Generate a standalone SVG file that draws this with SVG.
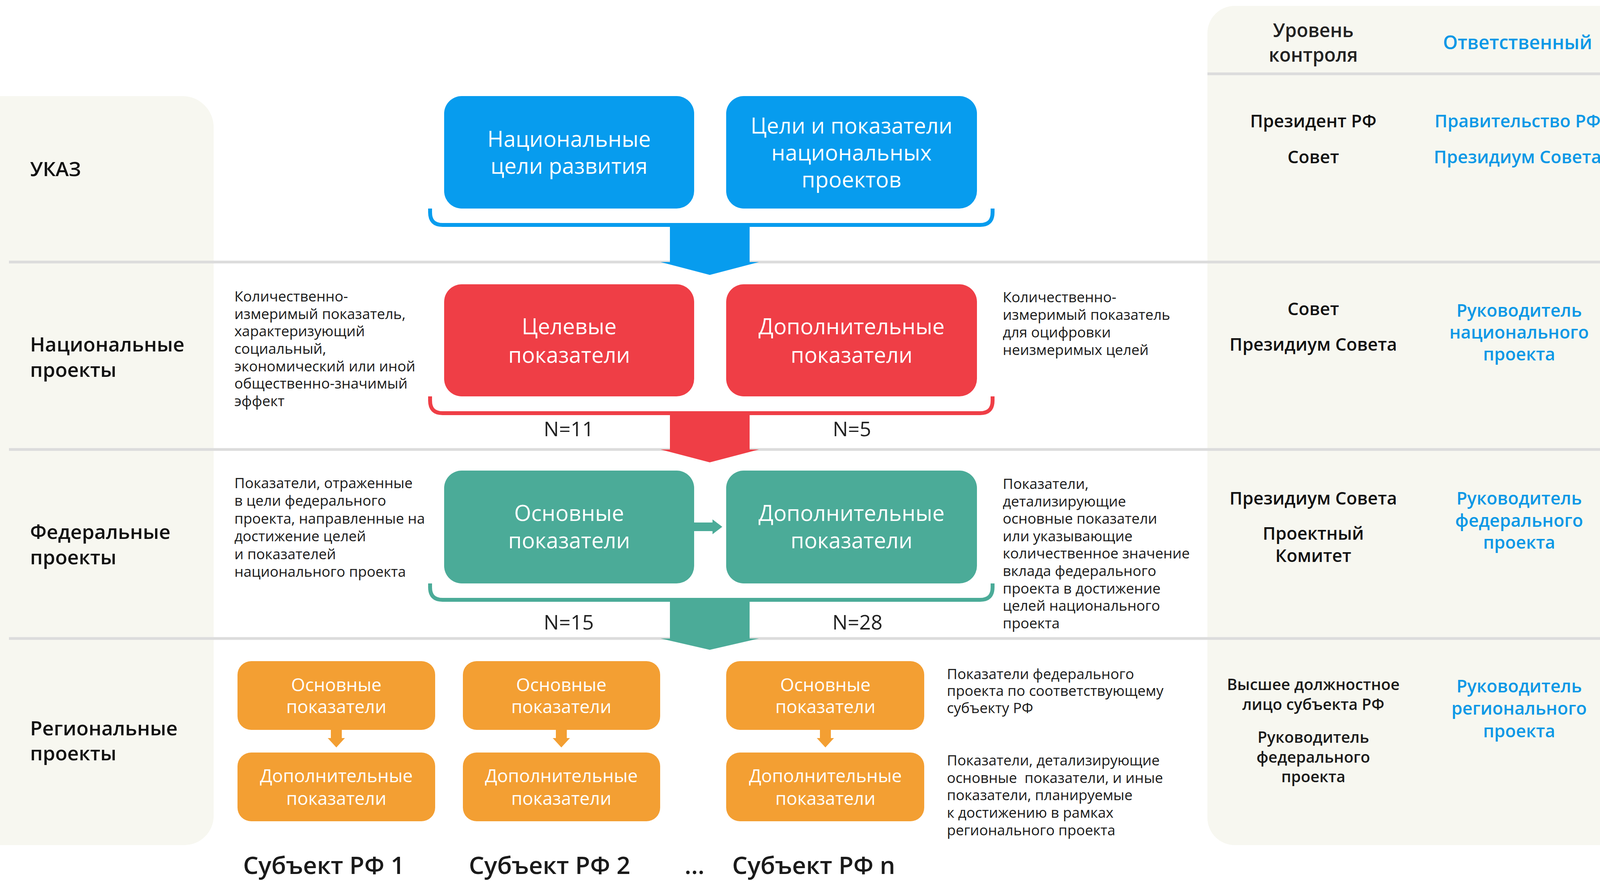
<svg xmlns="http://www.w3.org/2000/svg" width="4389" height="2256" viewBox="0 0 4389 2256">
<style>
text{font-family:"Open Sans","Noto Sans","Liberation Sans",sans-serif}
.lbl{font-size:51px;font-weight:600;fill:#111}
.desc{font-size:37px;fill:#1a1a1a}
.bx{font-size:56px;fill:#fff;text-anchor:middle}
.obx{font-size:46px;fill:#fff;text-anchor:middle}
.num{font-size:52px;fill:#222;text-anchor:middle}
.ctl{font-size:45px;font-weight:600;fill:#111;text-anchor:middle}
.ctls{font-size:40px;font-weight:600;fill:#1a1a1a;text-anchor:middle}
.rsp{font-size:45px;font-weight:600;fill:#0b98e6;text-anchor:middle}
.hdr{font-size:48px;font-weight:600;fill:#222;text-anchor:middle}
.sep{stroke:#dcdcdc;stroke-width:7}
.subj{font-size:62px;font-weight:600;fill:#1a1a1a;text-anchor:middle}
.blue{fill:#079cee}
.red{fill:#ef3e46}
.teal{fill:#4bab98}
.orange{fill:#f39f33}
</style>
<rect width="4389" height="2256" fill="#fff"/>
<g id="panels">
<path d="M0,246 H467 A80,80 0 0 1 547,326 V2089 A75,75 0 0 1 472,2164 H0 Z" fill="#f7f7f0"/>
<path d="M3161,15 H4450 V2164 H3161 A70,70 0 0 1 3091,2094 V85 A70,70 0 0 1 3161,15 Z" fill="#f7f7f0"/>
</g>
<g id="separators">
<line class="sep" x1="3091" y1="189" x2="4143" y2="189"/>
<line class="sep" x1="23" y1="671" x2="4143" y2="671"/>
<line class="sep" x1="23" y1="1151" x2="4143" y2="1151"/>
<line class="sep" x1="23" y1="1635" x2="4143" y2="1635"/>
</g>
<g id="row-labels">
<text class="lbl" x="77" y="451">УКАЗ</text>
<text class="lbl" x="77" y="900">Национальные</text>
<text class="lbl" x="77" y="965">проекты</text>
<text class="lbl" x="77" y="1380">Федеральные</text>
<text class="lbl" x="77" y="1445">проекты</text>
<text class="lbl" x="77" y="1883">Региональные</text>
<text class="lbl" x="77" y="1947">проекты</text>
</g>
<g id="connectors">
<path d="M1101,534 V544 Q1101,576 1133,576 H2509 Q2541,576 2541,544 V534" fill="none" stroke="#079cee" stroke-width="10"/>
<rect class="blue" x="1715" y="576" width="204" height="96"/>
<polygon class="blue" points="1691,671 1943,671 1817,704"/>
<path d="M1101,1015 V1026 Q1101,1058 1133,1058 H2509 Q2541,1058 2541,1026 V1015" fill="none" stroke="#ef3e46" stroke-width="10"/>
<rect class="red" x="1715" y="1058" width="204" height="94"/>
<polygon class="red" points="1691,1151 1943,1151 1817,1184"/>
<path d="M1101,1494 V1504 Q1101,1536 1133,1536 H2509 Q2541,1536 2541,1504 V1494" fill="none" stroke="#4bab98" stroke-width="10"/>
<rect class="teal" x="1715" y="1536" width="204" height="100"/>
<polygon class="teal" points="1691,1635 1943,1635 1817,1664"/>
<rect class="teal" x="1776" y="1338" width="50" height="22"/>
<polygon class="teal" points="1824,1330 1849,1349 1824,1368"/>
<rect class="orange" x="847" y="1867" width="28" height="25"/>
<polygon class="orange" points="839,1890 883,1890 861,1914"/>
<rect class="orange" x="1423" y="1867" width="28" height="25"/>
<polygon class="orange" points="1415,1890 1459,1890 1437,1914"/>
<rect class="orange" x="2099" y="1867" width="28" height="25"/>
<polygon class="orange" points="2091,1890 2135,1890 2113,1914"/>
</g>
<g id="n-goals">
<rect class="blue" x="1137" y="246" width="640" height="288" rx="45"/>
<text class="bx" x="1457" y="376">Национальные</text>
<text class="bx" x="1457" y="445">цели развития</text>
</g>
<g id="np-goals">
<rect class="blue" x="1859" y="246" width="642" height="288" rx="45"/>
<text class="bx" x="2180" y="342">Цели и показатели</text>
<text class="bx" x="2180" y="411">национальных</text>
<text class="bx" x="2180" y="480">проектов</text>
</g>
<g id="np-target">
<rect class="red" x="1137" y="728" width="640" height="287" rx="45"/>
<text class="bx" x="1457" y="856">Целевые</text>
<text class="bx" x="1457" y="929">показатели</text>
</g>
<g id="np-additional">
<rect class="red" x="1859" y="728" width="642" height="287" rx="45"/>
<text class="bx" x="2180" y="856">Дополнительные</text>
<text class="bx" x="2180" y="929">показатели</text>
</g>
<g id="fp-main">
<rect class="teal" x="1137" y="1205" width="640" height="289" rx="45"/>
<text class="bx" x="1457" y="1334">Основные</text>
<text class="bx" x="1457" y="1404">показатели</text>
</g>
<g id="fp-additional">
<rect class="teal" x="1859" y="1205" width="642" height="289" rx="45"/>
<text class="bx" x="2180" y="1334">Дополнительные</text>
<text class="bx" x="2180" y="1404">показатели</text>
</g>
<g id="counts">
<text class="num" x="1456" y="1117">N=11</text>
<text class="num" x="2181" y="1117">N=5</text>
<text class="num" x="1456" y="1612">N=15</text>
<text class="num" x="2195" y="1612">N=28</text>
</g>
<g id="rp1-main"><rect class="orange" x="608" y="1693" width="506" height="176" rx="35"/><text class="obx" x="861" y="1770">Основные</text><text class="obx" x="861" y="1826">показатели</text></g>
<g id="rp1-add"><rect class="orange" x="608" y="1927" width="506" height="176" rx="35"/><text class="obx" x="861" y="2003">Дополнительные</text><text class="obx" x="861" y="2061">показатели</text></g>
<g id="rp2-main"><rect class="orange" x="1185" y="1693" width="505" height="176" rx="35"/><text class="obx" x="1437" y="1770">Основные</text><text class="obx" x="1437" y="1826">показатели</text></g>
<g id="rp2-add"><rect class="orange" x="1185" y="1927" width="505" height="176" rx="35"/><text class="obx" x="1437" y="2003">Дополнительные</text><text class="obx" x="1437" y="2061">показатели</text></g>
<g id="rpn-main"><rect class="orange" x="1859" y="1693" width="507" height="176" rx="35"/><text class="obx" x="2113" y="1770">Основные</text><text class="obx" x="2113" y="1826">показатели</text></g>
<g id="rpn-add"><rect class="orange" x="1859" y="1927" width="507" height="176" rx="35"/><text class="obx" x="2113" y="2003">Дополнительные</text><text class="obx" x="2113" y="2061">показатели</text></g>
<g id="subjects">
<text class="subj" x="829" y="2238">Субъект РФ 1</text>
<text class="subj" x="1407" y="2238">Субъект РФ 2</text>
<text class="subj" x="1778" y="2238">...</text>
<text class="subj" x="2083" y="2238">Субъект РФ n</text>
</g>
<g id="descriptions">
<text class="desc" x="600" y="772">Количественно-</text>
<text class="desc" x="600" y="817">измеримый показатель,</text>
<text class="desc" x="600" y="861">характеризующий</text>
<text class="desc" x="600" y="906">социальный,</text>
<text class="desc" x="600" y="951">экономический или иной</text>
<text class="desc" x="600" y="995">общественно-значимый</text>
<text class="desc" x="600" y="1040">эффект</text>
<text class="desc" x="2567" y="774">Количественно-</text>
<text class="desc" x="2567" y="819">измеримый показатель</text>
<text class="desc" x="2567" y="864">для оцифровки</text>
<text class="desc" x="2567" y="909">неизмеримых целей</text>
<text class="desc" x="600" y="1250">Показатели, отраженные</text>
<text class="desc" x="600" y="1295">в цели федерального</text>
<text class="desc" x="600" y="1341">проекта, направленные на</text>
<text class="desc" x="600" y="1386">достижение целей</text>
<text class="desc" x="600" y="1432">и показателей</text>
<text class="desc" x="600" y="1477">национального проекта</text>
<text class="desc" x="2567" y="1252">Показатели,</text>
<text class="desc" x="2567" y="1297">детализирующие</text>
<text class="desc" x="2567" y="1341">основные показатели</text>
<text class="desc" x="2567" y="1386">или указывающие</text>
<text class="desc" x="2567" y="1430">количественное значение</text>
<text class="desc" x="2567" y="1475">вклада федерального</text>
<text class="desc" x="2567" y="1520">проекта в достижение</text>
<text class="desc" x="2567" y="1564">целей национального</text>
<text class="desc" x="2567" y="1609">проекта</text>
<text class="desc" x="2424" y="1739">Показатели федерального</text>
<text class="desc" x="2424" y="1782">проекта по соответствующему</text>
<text class="desc" x="2424" y="1826">субъекту РФ</text>
<text class="desc" x="2424" y="1960">Показатели, детализирующие</text>
<text class="desc" x="2424" y="2005" xml:space="preserve">основные  показатели, и иные</text>
<text class="desc" x="2424" y="2049">показатели, планируемые</text>
<text class="desc" x="2424" y="2094">к достижению в рамках</text>
<text class="desc" x="2424" y="2139">регионального проекта</text>
</g>
<g id="control-header">
<text class="hdr" x="3362" y="95">Уровень</text>
<text class="hdr" x="3362" y="158">контроля</text>
<text class="hdr" x="3885" y="126" style="fill:#0b98e6">Ответственный</text>
</g>
<g id="control-decree">
<text class="ctl" x="3362" y="326">Президент РФ</text>
<text class="ctl" x="3362" y="418">Совет</text>
<text class="rsp" x="3885" y="326">Правительство РФ</text>
<text class="rsp" x="3885" y="418">Президиум Совета</text>
</g>
<g id="control-national">
<text class="ctl" x="3362" y="807">Совет</text>
<text class="ctl" x="3362" y="898">Президиум Совета</text>
<text class="rsp" x="3889" y="811">Руководитель</text>
<text class="rsp" x="3889" y="867">национального</text>
<text class="rsp" x="3889" y="923">проекта</text>
</g>
<g id="control-federal">
<text class="ctl" x="3362" y="1292">Президиум Совета</text>
<text class="ctl" x="3362" y="1382">Проектный</text>
<text class="ctl" x="3362" y="1439">Комитет</text>
<text class="rsp" x="3889" y="1292">Руководитель</text>
<text class="rsp" x="3889" y="1349">федерального</text>
<text class="rsp" x="3889" y="1405">проекта</text>
</g>
<g id="control-regional">
<text class="ctls" x="3362" y="1767">Высшее должностное</text>
<text class="ctls" x="3362" y="1818">лицо субъекта РФ</text>
<text class="ctls" x="3362" y="1902">Руководитель</text>
<text class="ctls" x="3362" y="1953">федерального</text>
<text class="ctls" x="3362" y="2003">проекта</text>
<text class="rsp" x="3889" y="1773">Руководитель</text>
<text class="rsp" x="3889" y="1830">регионального</text>
<text class="rsp" x="3889" y="1888">проекта</text>
</g>
</svg>
